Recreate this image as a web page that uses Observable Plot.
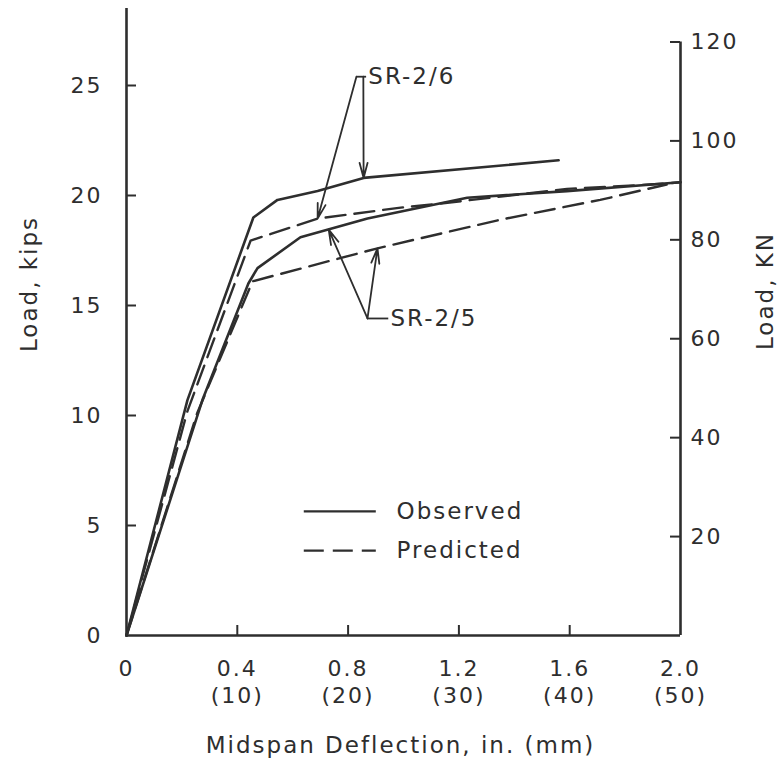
<!DOCTYPE html>
<html><head><meta charset="utf-8">
<script src="https://cdn.jsdelivr.net/npm/d3@7"></script>
<script src="https://cdn.jsdelivr.net/npm/@observablehq/plot@0.6"></script>
<style>
body{margin:0;background:#fff;}
#chart svg text{letter-spacing:2px;}
</style></head><body><div id="chart"></div>
<script>
// Deflection (in.) and load (kips)
const sr26ObsDefl = [0, 0.22, 0.458, 0.545, 0.69, 0.856, 1.56];
const sr26ObsLoad = [0, 10.7, 19.0, 19.8, 20.2, 20.8, 21.6];
const sr26PredDefl = [0, 0.22, 0.448, 0.69, 0.99, 1.11, 1.59, 1.89, 2.0];
const sr26PredLoad = [0, 10.2, 17.95, 18.95, 19.45, 19.6, 20.3, 20.5, 20.6];
const sr25ObsDefl = [0, 0.274, 0.44, 0.473, 0.628, 0.87, 1.23, 1.59, 2.0];
const sr25ObsLoad = [0, 10.7, 16.0, 16.7, 18.1, 18.95, 19.9, 20.2, 20.6];
const sr25PredDefl = [0, 0.255, 0.455, 0.906, 1.35, 1.71, 1.95];
const sr25PredLoad = [0, 10.1, 16.1, 17.6, 18.9, 19.8, 20.5];

const kipTicks = [0, 5, 10, 15, 20, 25];
const kNTicks = [20, 40, 60, 80, 100, 120];
const inchTicks = [0, 0.4, 0.8, 1.2, 1.6, 2.0];
const inchLabels = ["0", "0.4", "0.8", "1.2", "1.6", "2.0"];
const mmLabels = ["", "(10)", "(20)", "(30)", "(40)", "(50)"];
const KN_PER_KIP = 4.448;

// annotation arrows (data space)
const arrowFrom = [[0.83, 25.4], [0.855, 25.4], [0.87, 14.41], [0.87, 14.41]];
const arrowTo = [[0.69, 18.95], [0.856, 20.8], [0.73, 18.45], [0.906, 17.6]];
const labelNames = ["SR-2/6", "SR-2/5"];
const labelVertex = [[0.83, 25.4], [0.87, 14.41]];
const labelLeader = [0.035, 0.075];

const mk = (id, xs, ys) => xs.map((x, i) => ({id, x, y: ys[i]}));
const observed = [...mk("SR-2/6", sr26ObsDefl, sr26ObsLoad), ...mk("SR-2/5", sr25ObsDefl, sr25ObsLoad)];
const predicted = [...mk("SR-2/6", sr26PredDefl, sr26PredLoad), ...mk("SR-2/5", sr25PredDefl, sr25PredLoad)];
const arrows = arrowFrom.map((f, i) => ({x1: f[0], y1: f[1], x2: arrowTo[i][0], y2: arrowTo[i][1]}));
const labels = labelNames.map((t, i) => ({t, x: labelVertex[i][0], y: labelVertex[i][1], l: labelLeader[i]}));
const xTickRows = inchTicks.map((x, i) => ({x, t: mmLabels[i] ? inchLabels[i] + "\n" + mmLabels[i] : inchLabels[i]}));

const ink = "#2e2e2e";
const W = 779, H = 760, mL = 126, mR = 99, mT = 8, mB = 125;
const pw = W - mL - mR, ph = H - mT - mB;
const fs = 22;

const chart = Plot.plot({
  width: W, height: H,
  marginLeft: mL, marginRight: mR, marginTop: mT, marginBottom: mB,
  style: {fontFamily: "'DejaVu Sans', sans-serif", background: "#fff", color: ink},
  x: {domain: [0, 2], axis: null},
  y: {domain: [0, 28.5], axis: null},
  marks: [
    // axis lines
    Plot.ruleX([0], {stroke: ink, strokeWidth: 2.6}),
    Plot.ruleX([2], {y1: 0, y2: 120 / KN_PER_KIP, stroke: ink, strokeWidth: 2.6}),
    Plot.ruleY([0], {stroke: ink, strokeWidth: 2.6}),
    // inward ticks
    Plot.tickY(kipTicks.slice(1), {y: d => d, insetRight: pw - 10, stroke: ink, strokeWidth: 2}),
    Plot.tickY(kNTicks, {y: d => d / KN_PER_KIP, insetLeft: pw - 10, stroke: ink, strokeWidth: 2}),
    Plot.tickX(inchTicks.slice(1, -1), {x: d => d, insetTop: ph - 10, stroke: ink, strokeWidth: 2}),
    // tick labels
    Plot.text(kipTicks, {x: 0, y: d => d, text: d => String(d), dx: -24, textAnchor: "end", fontSize: fs, fill: ink}),
    Plot.text(kNTicks, {x: 2, y: d => d / KN_PER_KIP, text: d => String(d), dx: 10, textAnchor: "start", fontSize: fs, fill: ink}),
    Plot.text(xTickRows, {x: "x", y: 0, text: "t", dy: 22, lineAnchor: "top", lineHeight: 1.2, fontSize: fs, fill: ink}),
    // axis titles
    Plot.text(["Load, kips"], {frameAnchor: "left", dx: -97, dy: -38, rotate: -90, textAnchor: "middle", lineAnchor: "middle", fontSize: fs + 1, fill: ink}),
    Plot.text(["Load, KN"], {frameAnchor: "right", dx: 85, dy: -31, rotate: -90, textAnchor: "middle", lineAnchor: "middle", fontSize: fs + 1, fill: ink}),
    Plot.text(["Midspan Deflection, in. (mm)"], {frameAnchor: "bottom", dx: -3, dy: 110, textAnchor: "middle", lineAnchor: "middle", fontSize: fs + 1, fill: ink}),
    // curves
    Plot.line(observed, {x: "x", y: "y", z: "id", stroke: ink, strokeWidth: 2.6}),
    Plot.line(predicted, {x: "x", y: "y", z: "id", stroke: ink, strokeWidth: 2.4, strokeDasharray: "20,9"}),
    // annotations
    Plot.arrow(arrows, {x1: "x1", y1: "y1", x2: "x2", y2: "y2", stroke: ink, strokeWidth: 1.8, headLength: 13, headAngle: 30}),
    Plot.link(labels, {x1: "x", y1: "y", x2: d => d.x + d.l, y2: "y", stroke: ink, strokeWidth: 1.8}),
    Plot.text(labels, {x: d => d.x + d.l + 0.008, y: "y", text: "t", textAnchor: "start", fontSize: fs + 1, fill: ink}),
    // legend
    Plot.link([{k: "Observed", y: 5.64}], {x1: 0.64, x2: 0.9, y1: "y", y2: "y", stroke: ink, strokeWidth: 2.2}),
    Plot.link([{k: "Predicted", y: 3.86}], {x1: 0.64, x2: 0.9, y1: "y", y2: "y", stroke: ink, strokeWidth: 2.2, strokeDasharray: "20,9"}),
    Plot.text([{k: "Observed", y: 5.64}, {k: "Predicted", y: 3.86}], {x: 0.975, y: "y", text: "k", textAnchor: "start", fontSize: fs + 1, fill: ink})
  ]
});
document.getElementById("chart").appendChild(chart);
</script></body></html>
